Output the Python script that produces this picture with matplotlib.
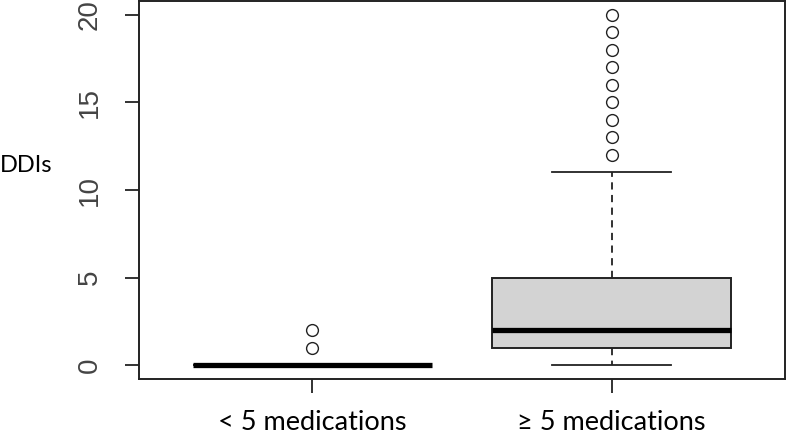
import matplotlib
matplotlib.use("Agg")
import matplotlib.pyplot as plt

# box statistics
groups = ["< 5 medications", "\u2265 5 medications"]
q1 = [0, 1]
med = [0, 2]
q3 = [0, 5]
whislo = [0, 0]
whishi = [0, 11]
fliers = [[1, 2], [12, 13, 14, 15, 16, 17, 18, 19, 20]]
yticks = [0, 5, 10, 15, 20]
ylabel = "DDIs"

LABEL_FONT = ["Lato", "DejaVu Sans"]
TICK_FONT = ["Liberation Sans", "DejaVu Sans"]

fig = plt.figure(figsize=(7.87, 4.36), dpi=100)
ax = fig.add_axes([139 / 787, 57 / 436, 646 / 787, 378 / 436])

stats = []
for i, g in enumerate(groups):
    stats.append({"label": g, "q1": q1[i], "med": med[i], "q3": q3[i],
                  "whislo": whislo[i], "whishi": whishi[i], "fliers": fliers[i]})

ax.bxp(stats, positions=[1, 2], widths=0.8, patch_artist=True, showfliers=True,
       boxprops=dict(facecolor="#d3d3d3", edgecolor="#222222", linewidth=1.4),
       medianprops=dict(color="black", linewidth=3.8, solid_capstyle="butt"),
       whiskerprops=dict(color="#222222", linewidth=1.3, linestyle=(0, (4, 3))),
       capprops=dict(color="#222222", linewidth=1.3),
       capwidths=0.4,
       flierprops=dict(marker="o", markerfacecolor="none", markeredgecolor="#222222",
                       markersize=8.5, markeredgewidth=1.0))

ax.set_xlim(0.42, 2.58)
ax.set_ylim(-0.8, 20.8)
ax.set_yticks(yticks)
ax.set_yticklabels([str(v) for v in yticks], rotation=90, va="center",
                   family=TICK_FONT, fontsize=20, color="#444444")
ax.set_xticks([1, 2])
ax.set_xticklabels(groups, family=LABEL_FONT, fontsize=19.5)
ax.tick_params(axis="y", length=10, width=1.3, pad=16, color="#222222")
ax.tick_params(axis="x", length=10, width=1.3, pad=12, color="#222222")
for s in ax.spines.values():
    s.set_linewidth(1.4)
    s.set_color("#222222")

fig.text(0.0, 1 - 165 / 436, ylabel, family=LABEL_FONT, fontsize=17,
         ha="left", va="center")

fig.savefig("out.png", dpi=100, facecolor="white")
